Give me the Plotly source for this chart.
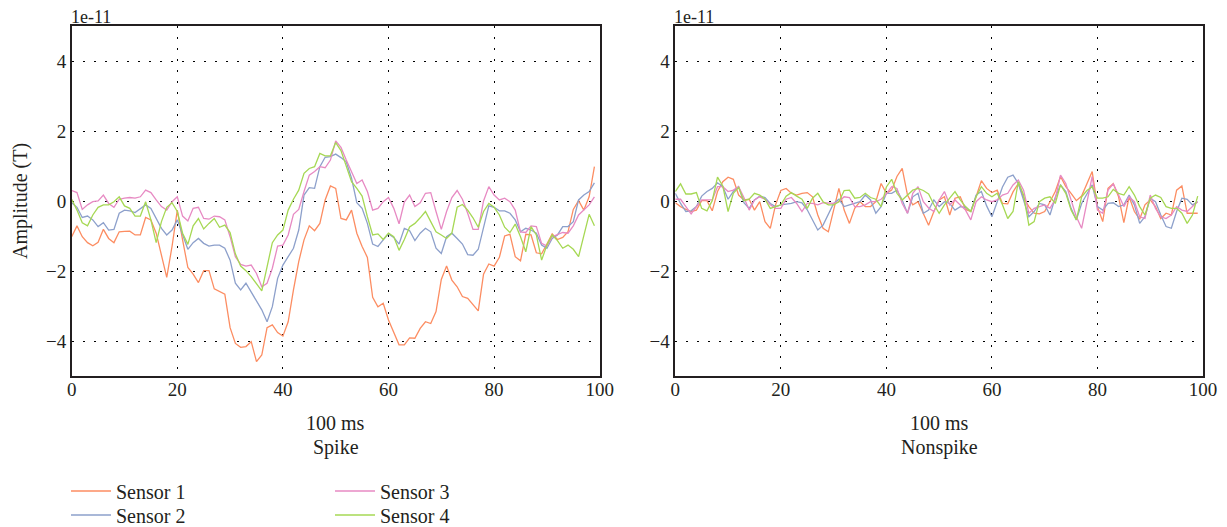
import plotly.graph_objects as go

# ---------------- data ----------------
t = list(range(100))  # sample index within the 100 ms window

spike_s1 = [-1.02,-0.71,-1.02,-1.19,-1.28,-1.18,-0.81,-1.07,-1.19,-0.88,
            -0.87,-0.86,-0.97,-0.97,-0.47,-0.54,-0.92,-1.59,-2.18,-1.30,
            -0.26,-1.11,-1.90,-2.09,-2.33,-1.99,-1.99,-2.51,-2.58,-2.66,
            -3.62,-4.07,-4.18,-4.16,-4.02,-4.59,-4.40,-3.62,-3.54,-3.76,
            -3.86,-3.45,-2.54,-1.73,-1.11,-0.71,-0.85,-0.64,0.03,0.43,
            0.36,-0.50,-0.54,-0.26,-0.92,-1.30,-1.61,-2.75,-3.02,-2.92,
            -3.40,-3.78,-4.11,-4.11,-3.91,-3.92,-3.64,-3.45,-3.50,-3.16,
            -2.24,-1.86,-2.26,-2.45,-2.73,-2.78,-2.97,-3.14,-2.09,-1.80,
            -1.86,-1.61,-1.00,-0.95,-1.59,-1.71,-0.95,-0.97,-1.48,-1.51,
            -1.23,-0.94,-1.10,-1.04,-0.88,-0.24,0.01,-0.26,0.12,0.98]
spike_s2 = [-0.05,-0.18,-0.47,-0.43,-0.54,-0.73,-0.62,-0.83,-0.81,-0.35,
            -0.26,-0.28,-0.33,-0.21,-0.11,-0.21,-0.50,-0.78,-0.97,-0.83,
            -0.54,-0.97,-1.38,-1.19,-1.07,-1.21,-1.29,-1.26,-1.26,-1.35,
            -1.69,-2.35,-2.54,-2.35,-2.59,-2.83,-3.11,-3.45,-3.02,-2.21,
            -1.83,-1.59,-1.35,-0.83,0.17,0.38,0.36,0.98,1.25,1.27,
            1.34,1.24,1.12,0.65,-0.05,-0.21,-0.64,-1.23,-1.30,-1.11,
            -0.94,-1.04,-1.23,-0.78,-0.85,-1.13,-0.92,-0.78,-0.88,-1.35,
            -1.50,-1.02,-0.92,-1.07,-1.23,-1.53,-1.55,-1.38,-0.78,-0.14,
            -0.18,-0.28,-0.28,-0.35,-0.54,-0.88,-0.78,-0.83,-0.92,-1.26,
            -1.35,-1.07,-0.97,-0.73,-0.73,-0.59,0.03,0.17,0.27,0.52]
spike_s3 = [0.30,0.24,-0.24,-0.11,-0.02,0.00,0.17,-0.07,-0.18,0.05,
            0.08,0.10,0.08,0.12,0.31,0.24,0.03,-0.16,-0.26,-0.02,
            0.12,-0.43,-0.57,-0.21,-0.18,-0.50,-0.52,-0.43,-0.45,-0.54,
            -1.02,-1.59,-1.81,-1.86,-1.83,-2.07,-2.45,-2.35,-1.92,-1.29,
            -1.26,-0.97,-0.38,-0.24,0.27,0.74,0.84,0.98,0.95,1.17,
            1.72,1.53,1.17,0.84,0.50,0.60,0.27,-0.26,-0.21,-0.02,
            0.10,-0.21,-0.65,-0.03,0.17,-0.16,-0.05,0.22,0.24,-0.30,
            -0.81,-0.30,0.10,0.30,0.05,-0.35,-0.81,-0.81,0.00,0.41,
            0.17,0.03,0.08,-0.02,-0.26,-0.88,-0.90,-0.71,-0.73,-1.21,
            -1.29,-1.02,-0.97,-0.90,-0.92,-0.71,-0.40,-0.26,-0.11,0.12]
spike_s4 = [0.05,-0.26,-0.62,-0.71,-0.40,-0.18,-0.11,-0.11,-0.02,0.12,
            -0.14,-0.21,-0.43,-0.43,-0.02,-0.54,-1.19,-0.59,-0.18,-0.05,
            -0.30,-0.92,-1.24,-0.71,-0.50,-0.80,-0.64,-0.50,-0.75,-0.69,
            -0.90,-1.51,-1.86,-1.99,-2.16,-2.35,-2.57,-1.88,-1.19,-0.97,
            -0.83,-0.26,0.05,0.31,0.79,0.93,0.98,1.36,1.29,1.29,
            1.67,1.44,0.98,0.55,0.36,0.14,-0.45,-0.97,-0.94,-1.10,
            -0.92,-1.02,-1.41,-1.10,-0.74,-0.64,-0.48,-0.30,-0.59,-0.88,
            -0.97,-1.07,-0.92,-0.18,-0.10,-0.26,-0.48,-0.75,-0.30,-0.07,
            -0.18,-0.40,-0.75,-0.90,-0.66,-1.02,-1.45,-0.73,-0.97,-1.69,
            -1.26,-0.97,-1.13,-1.35,-1.26,-1.38,-1.59,-1.02,-0.38,-0.71]

nonspike_s1 = [-0.05,-0.16,-0.24,-0.30,-0.26,0.01,0.01,-0.28,0.27,0.55,
               0.68,0.62,0.17,0.03,0.05,-0.26,-0.02,-0.59,-0.78,-0.11,
               0.30,0.36,0.22,0.17,0.22,0.24,0.12,-0.40,-0.78,-0.88,
               -0.26,0.36,-0.26,-0.64,-0.21,-0.02,-0.16,-0.16,-0.02,0.50,
               0.22,0.31,0.70,0.93,0.17,-0.11,-0.02,-0.35,-0.69,-0.30,
               0.03,0.12,-0.40,0.08,0.12,-0.24,-0.30,0.12,0.58,0.36,
               0.24,0.31,-0.07,-0.08,0.26,0.50,0.10,-0.16,-0.35,-0.37,
               -0.30,-0.02,0.27,0.70,0.41,0.22,0.01,0.14,0.50,0.84,
               -0.16,-0.59,0.36,0.50,0.12,-0.62,0.12,-0.30,-0.52,-0.11,
               0.03,-0.16,-0.50,-0.35,-0.40,0.31,0.43,-0.35,-0.35,-0.35]
nonspike_s2 = [0.22,-0.07,-0.30,-0.28,-0.16,0.14,0.27,0.36,0.52,0.41,
               0.05,0.27,0.41,-0.05,-0.21,0.03,0.14,0.10,-0.07,-0.16,
               -0.11,-0.09,-0.07,-0.02,-0.05,-0.25,-0.54,-0.83,-0.69,-0.40,
               -0.07,0.05,-0.16,-0.11,-0.07,-0.02,0.17,0.03,-0.35,-0.16,
               0.22,0.22,0.31,0.03,-0.35,0.12,0.22,-0.35,-0.26,0.03,
               -0.16,-0.02,-0.07,-0.26,-0.16,-0.18,-0.30,0.17,0.27,-0.14,
               -0.45,-0.05,0.40,0.68,0.74,0.50,0.05,-0.45,-0.30,-0.07,
               -0.11,-0.40,0.10,0.46,0.27,-0.21,-0.54,-0.07,0.20,0.46,
               -0.16,-0.26,-0.07,-0.05,-0.16,-0.11,0.17,-0.11,-0.64,-0.45,
               0.08,-0.02,-0.40,-0.73,-0.78,-0.30,0.08,0.05,-0.11,-0.02]
nonspike_s3 = [0.05,0.05,-0.16,-0.37,-0.16,0.03,0.03,0.03,0.41,0.41,
               0.27,0.31,0.41,0.10,-0.26,0.03,0.12,0.05,-0.11,-0.21,
               -0.21,0.05,0.10,-0.07,-0.30,-0.07,-0.07,-0.11,-0.05,-0.07,
               -0.07,-0.02,0.12,0.10,-0.16,-0.16,-0.11,-0.02,-0.02,0.05,
               0.20,0.41,0.36,-0.07,-0.35,0.22,0.41,-0.02,-0.20,-0.30,
               0.03,0.27,-0.11,0.03,-0.11,-0.26,-0.54,-0.02,0.12,0.03,
               -0.02,0.03,0.17,0.22,0.46,0.60,0.31,-0.35,-0.21,-0.16,
               -0.11,-0.21,0.05,0.74,0.50,0.03,-0.45,-0.78,-0.07,0.70,
               -0.26,-0.35,0.31,0.49,0.17,-0.16,0.12,-0.02,-0.45,-0.50,
               0.17,-0.21,-0.45,-0.50,-0.40,-0.16,-0.26,-0.30,-0.16,-0.02]
nonspike_s4 = [0.27,0.49,0.20,0.20,0.24,-0.21,-0.28,0.01,0.68,0.43,
               -0.30,0.22,0.39,0.01,0.05,0.22,0.17,0.05,-0.21,-0.16,
               -0.11,0.14,0.24,0.14,0.05,-0.21,0.08,0.22,-0.02,-0.11,
               -0.11,-0.02,0.30,0.31,0.08,0.10,0.22,0.10,0.05,-0.16,
               0.40,0.62,0.22,0.03,0.17,0.31,0.36,0.30,0.20,-0.10,
               -0.35,-0.11,0.08,0.27,0.03,-0.16,-0.30,0.12,0.41,0.22,
               0.12,0.22,-0.11,-0.50,-0.30,0.55,0.17,-0.69,-0.59,-0.02,
               0.08,0.12,-0.07,0.46,0.22,-0.26,-0.54,0.12,0.30,0.41,
               0.08,0.08,0.12,0.33,0.22,0.17,0.41,0.17,-0.16,-0.40,
               0.08,0.17,0.10,-0.16,-0.21,-0.21,-0.35,-0.64,-0.40,0.14]

sensor_names = ["Sensor 1", "Sensor 2", "Sensor 3", "Sensor 4"]
panel_titles = ["Spike", "Nonspike"]
x_ticks = [0, 20, 40, 60, 80, 100]
y_ticks = [-4, -2, 0, 2, 4]

# ---------------- style ----------------
colors = ["#fc8d62", "#8da0cb", "#e78ac3", "#a6d854"]
FONT = "Liberation Serif"
INK = "#231f20"
OFF = 8                      # page body margin: figure starts 8 px into the window
W, H = 1227 - OFF, 527 - OFF


def px(x):                   # window x (px) -> paper fraction
    return (x - OFF) / W


def py(y):                   # window y (px, from top) -> paper fraction
    return (H - (y - OFF)) / H


fig = go.Figure()
spike = [spike_s1, spike_s2, spike_s3, spike_s4]
nonspike = [nonspike_s1, nonspike_s2, nonspike_s3, nonspike_s4]
legend_ids = ["legend", "legend2", "legend3", "legend4"]
for i in range(4):
    fig.add_trace(go.Scatter(x=t, y=spike[i], mode="lines", name=sensor_names[i],
                             line=dict(color=colors[i], width=1.3),
                             xaxis="x", yaxis="y", legend=legend_ids[i]))
for i in range(4):
    fig.add_trace(go.Scatter(x=t, y=nonspike[i], mode="lines", name=sensor_names[i],
                             line=dict(color=colors[i], width=1.3), showlegend=False,
                             xaxis="x2", yaxis="y2"))

xl = (71.7, 599.7)
xr = (675.3, 1203.0)
ytop, ybot = 26.0, 376.0
ydom = [py(ybot), py(ytop)]

axis_common = dict(showline=True, linecolor=INK, linewidth=1.5, mirror=True,
                   showgrid=True, gridcolor="#000000", gridwidth=1.3,
                   griddash="2px,9px", zeroline=False, automargin=False,
                   tickfont=dict(family=FONT, size=19, color=INK))
x_common = dict(ticks="", ticklabelstandoff=-5, range=[0, 100], tickvals=x_ticks,
                **axis_common)
y_common = dict(ticks="", range=[-5, 5], tickvals=y_ticks, domain=ydom,
                ticksuffix="\u2009\u2009", **axis_common)

# legend entry positions (left edge px, row centre px) in window coordinates
leg_pos = [(66, 491), (66, 515), (330, 491), (330, 515)]
legend_layout = {}
for lid, (lx, ly) in zip(legend_ids, leg_pos):
    legend_layout[lid] = dict(x=px(lx), y=py(ly), xanchor="left", yanchor="middle",
                              bgcolor="rgba(0,0,0,0)", itemwidth=40,
                              font=dict(family=FONT, size=20, color=INK))

fig.update_layout(
    template="none",
    width=W, height=H,
    margin=dict(l=0, r=0, t=0, b=0, autoexpand=False),
    paper_bgcolor="white", plot_bgcolor="white",
    font=dict(family=FONT, size=20, color=INK),
    showlegend=True,
    xaxis=dict(domain=[px(xl[0]), px(xl[1])], anchor="y", **x_common),
    yaxis=dict(anchor="x", **y_common),
    xaxis2=dict(domain=[px(xr[0]), px(xr[1])], anchor="y2", **x_common),
    yaxis2=dict(anchor="x2", **y_common),
    **legend_layout,
)

ann = []
for (x0, x1), title in zip([xl, xr], panel_titles):
    cx = px((x0 + x1) / 2)
    ann.append(dict(text="100 ms", x=cx, y=py(423), xref="paper", yref="paper",
                    showarrow=False, xanchor="center", yanchor="middle"))
    ann.append(dict(text=title, x=cx, y=py(447), xref="paper", yref="paper",
                    showarrow=False, xanchor="center", yanchor="middle"))
    ann.append(dict(text="1e-11", x=px(x0 - 3), y=py(17.5), xref="paper", yref="paper",
                    showarrow=False, xanchor="left", yanchor="middle",
                    font=dict(family=FONT, size=18, color=INK)))
ann.append(dict(text="Amplitude (T)", x=px(20), y=py(201), xref="paper", yref="paper",
                showarrow=False, textangle=-90, xanchor="center", yanchor="middle"))
fig.update_layout(annotations=ann)

fig.write_html("out.html")
